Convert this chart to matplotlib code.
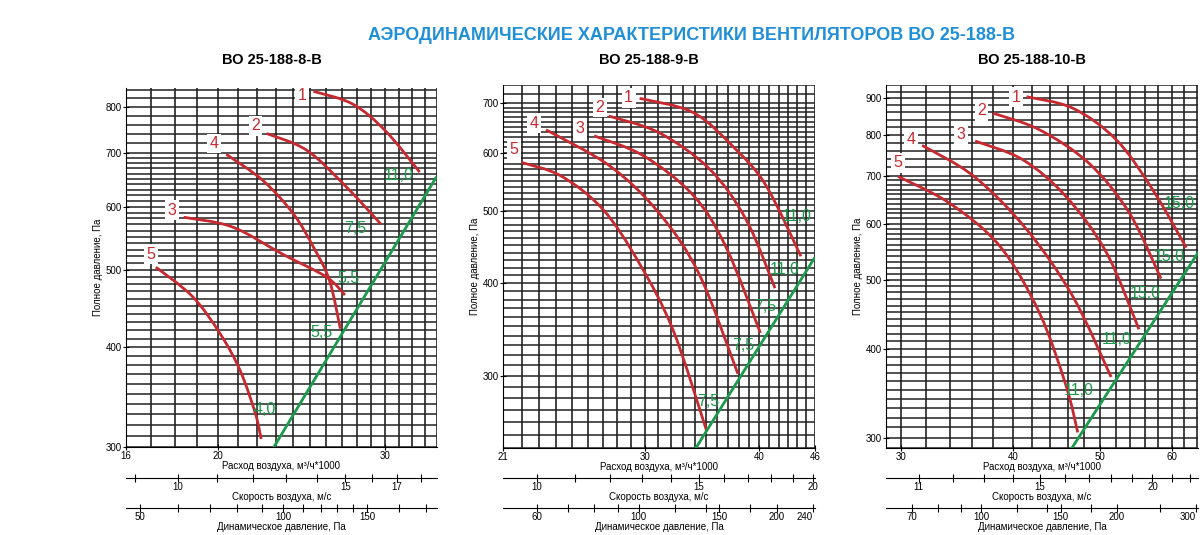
import numpy as np
import matplotlib
matplotlib.use("Agg")
import matplotlib.pyplot as plt
from matplotlib.ticker import FixedLocator, NullLocator
from matplotlib.path import Path
from matplotlib.patches import PathPatch

plt.rcParams['font.family'] = ['Liberation Sans', 'DejaVu Sans']

TITLE = "АЭРОДИНАМИЧЕСКИЕ ХАРАКТЕРИСТИКИ ВЕНТИЛЯТОРОВ ВО 25-188-В"
names = ["ВО 25-188-8-В", "ВО 25-188-9-В", "ВО 25-188-10-В"]

# ---- panel 1 data (Q in 1000 m3/h, P in Pa)
p1_curves = {
    "1": ([25.2, 27.7, 30.0, 32.6], [837, 807, 747, 663]),
    "2": ([22.5, 24.8, 27.3, 29.7], [741, 706, 635, 570]),
    "4": ([20.4, 22.3, 24.0, 25.2, 26.2, 26.9], [698, 647, 588, 534, 485, 422]),
    "3": ([18.4, 20.7, 23.4, 26.0, 27.2], [582, 566, 523, 490, 465]),
    "5": ([17.2, 18.8, 20.1, 21.1, 21.9, 22.2], [504, 463, 416, 374, 330, 307]),
}
p1_green = ([22.9, 33.9], [300, 652])
p1_power = [("11,0", 31.0, 657), ("7,5", 27.9, 563), ("5,5", 27.4, 488), ("5,5", 25.7, 418), ("4,0", 22.4, 334)]
p1_nums = [("1", 24.5, 826), ("2", 21.9, 758), ("4", 19.8, 720), ("3", 17.9, 594), ("5", 17.0, 523)]

# ---- panel 2
p2_curves = {
    "1": ([29.6, 33.9, 37.7, 40.7, 44.4], [710, 679, 606, 541, 435]),
    "2": ([27.4, 31.1, 35.3, 38.7, 41.6], [672, 638, 570, 487, 394]),
    "3": ([26.4, 29.9, 33.9, 36.8, 40.1], [632, 594, 525, 447, 343]),
    "4": ([23.4, 27.5, 31.1, 34.4, 37.9], [644, 575, 497, 411, 302]),
    "5": ([22.0, 24.3, 27.0, 29.6, 32.2, 35.0], [582, 558, 503, 425, 346, 254]),
}
p2_green = ([34.1, 45.9], [240, 432])
p2_power = [("11,0", 43.9, 492), ("11,0", 42.6, 417), ("7,5", 40.6, 372), ("7,5", 38.4, 330), ("7,5", 35.2, 277)]
p2_nums = [("1", 28.8, 711), ("2", 26.8, 690), ("3", 25.5, 647), ("4", 22.7, 657), ("5", 21.6, 606)]

# ---- panel 3
p3_curves = {
    "1": ([41.4, 46.6, 52.1, 57.2, 62.3], [905, 872, 787, 669, 555]),
    "2": ([38.0, 42.8, 48.6, 53.9, 58.4], [858, 813, 729, 620, 502]),
    "3": ([36.3, 41.0, 45.8, 50.8, 55.2], [784, 738, 655, 546, 426]),
    "4": ([31.7, 36.2, 41.4, 46.6, 51.4], [773, 699, 589, 474, 365]),
    "5": ([29.8, 34.0, 38.7, 42.8, 45.8, 47.2], [699, 641, 557, 449, 355, 305]),
}
p3_green = ([46.5, 64.2], [290, 546])
p3_power = [("15,0", 61.2, 641), ("15,0", 59.7, 540), ("15,0", 56.1, 479), ("11,0", 52.2, 412), ("11,0", 47.3, 349)]
p3_nums = [("1", 40.3, 903), ("2", 36.9, 865), ("3", 35.0, 800), ("4", 30.8, 789), ("5", 29.8, 731)]

xlims = [(16, 34), (21, 46), (28.9, 64.2)]
ylims = [(300, 845), (240, 740), (290, 940)]
xticks = [[16, 20, 30], [21, 30, 40, 46], [30, 40, 50, 60]]
yticks = [[300, 400, 500, 600, 700, 800], [300, 400, 500, 600, 700], [300, 400, 500, 600, 700, 800, 900]]
vgrid_step = [1, 1, 2]
vel_ratio = [0.551, 0.437, 0.350]
vel_ticks = [[9, 10, 11, 12, 13, 14, 15, 16, 17, 18], list(range(10, 21)), list(range(11, 23))]
vel_labels = [[10, 15, 17], [10, 15, 20], [11, 15, 20]]
dyn_ticks = [[50, 60, 70, 80, 90, 100, 110, 120, 130, 140, 150, 175, 200],
             [60, 70, 80, 90, 100, 120, 140, 150, 175, 200, 240],
             [70, 80, 90, 100, 120, 140, 150, 175, 200, 250, 300]]
dyn_labels = [[50, 100, 150], [60, 100, 150, 200, 240], [70, 100, 150, 200, 300]]

curves = [p1_curves, p2_curves, p3_curves]
greens = [p1_green, p2_green, p3_green]
powers = [p1_power, p2_power, p3_power]
nums = [p1_nums, p2_nums, p3_nums]

W, H = 1200, 535
fig = plt.figure(figsize=(W / 100, H / 100), dpi=100)
RED = "#c62a30"
GREEN = "#1a9a4a"
BLUE = "#1f8fd8"


def smooth_curve(ax, xs, ys, **kw):
    """Draw a smooth curve through the points using cubic Bezier segments (in display space)."""
    pts = ax.transData.transform(np.column_stack([xs, ys]))
    n = len(pts)
    verts = [pts[0]]
    codes = [Path.MOVETO]
    for k in range(n - 1):
        p0 = pts[k - 1] if k > 0 else pts[k]
        p1, p2 = pts[k], pts[k + 1]
        p3 = pts[k + 2] if k + 2 < n else pts[k + 1]
        c1 = p1 + (p2 - p0) / 6.0
        c2 = p2 - (p3 - p1) / 6.0
        verts += [c1, c2, p2]
        codes += [Path.CURVE4] * 3
    patch = PathPatch(Path(verts, codes), transform=None, fill=False, **kw)
    ax.add_artist(patch)


fig.text(692 / W, 1 - 35 / H, TITLE, color=BLUE, fontsize=13, fontweight="bold", ha="center", va="center")

boxes = [(126, 437, 88, 447), (503, 815, 85, 448), (886, 1198, 85, 448)]
for i in range(3):
    l, r, t, b = boxes[i]
    ax = fig.add_axes([l / W, 1 - b / H, (r - l) / W, (b - t) / H])
    ax.set_xscale("log"); ax.set_yscale("log")
    x0, x1 = xlims[i]; y0, y1 = ylims[i]
    ax.set_xlim(x0, x1); ax.set_ylim(y0, y1)
    st = vgrid_step[i]
    for gx in np.arange(np.ceil(x0 / st) * st, x1 + 0.01, st):
        ax.axvline(gx, color="#222", lw=1.2, zorder=1)
    ys = list(range(int(np.ceil(y0 / 10) * 10), 700, 10)) + list(range(700, int(y1) + 1, 20))
    for gy in ys:
        ax.axhline(gy, color="#222", lw=1.1, zorder=1)
    for k, (xs, yv) in curves[i].items():
        smooth_curve(ax, xs, yv, edgecolor=RED, lw=2, zorder=3, capstyle="butt")
    gx_, gy_ = greens[i]
    ax.plot(gx_, gy_, color=GREEN, lw=2, zorder=3)
    for s, x, y in powers[i]:
        ax.text(x, y, s, color=GREEN, fontsize=11.5, ha="center", va="center", zorder=4)
    for s, x, y in nums[i]:
        ax.text(x, y, s, color=RED, fontsize=11.5, ha="center", va="center", zorder=4,
                bbox=dict(boxstyle="square,pad=0.15", fc="white", ec="none"))
    for sp in ax.spines.values():
        sp.set_visible(False)
    ax.spines["left"].set_visible(True)
    ax.spines["bottom"].set_visible(True)
    ax.xaxis.set_major_locator(FixedLocator(xticks[i]))
    ax.xaxis.set_minor_locator(NullLocator())
    ax.yaxis.set_major_locator(FixedLocator(yticks[i]))
    ax.yaxis.set_minor_locator(NullLocator())
    ax.set_xticklabels([str(v) for v in xticks[i]])
    ax.set_yticklabels([str(v) for v in yticks[i]])
    ax.tick_params(labelsize=7, length=4, direction="inout", pad=1)
    ax.set_xlabel("Расход воздуха, м³/ч*1000", fontsize=7, labelpad=0)
    ax.set_ylabel("Полное давление, Па", fontsize=7, labelpad=2)
    fig.text(((l + r) / 2 - 10) / W, 1 - 60 / H, names[i], fontsize=10.5, fontweight="bold", ha="center", va="center")

    axv = fig.add_axes([l / W, 1 - 478 / H, (r - l) / W, 0.001])
    axv.set_xscale("log")
    axv.set_xlim(x0 * vel_ratio[i], x1 * vel_ratio[i])
    axv.set_yticks([])
    for sp in ["top", "left", "right"]:
        axv.spines[sp].set_visible(False)
    axv.xaxis.set_major_locator(FixedLocator(vel_ticks[i]))
    axv.xaxis.set_minor_locator(NullLocator())
    axv.set_xticklabels([str(v) if v in vel_labels[i] else "" for v in vel_ticks[i]])
    axv.tick_params(labelsize=7, length=6, direction="inout", pad=0)
    axv.set_xlabel("Скорость воздуха, м/с", fontsize=7, labelpad=0)

    axd = fig.add_axes([l / W, 1 - 508 / H, (r - l) / W, 0.001])
    axd.set_xscale("log")
    axd.set_xlim(0.6 * (x0 * vel_ratio[i]) ** 2, 0.6 * (x1 * vel_ratio[i]) ** 2)
    axd.set_yticks([])
    for sp in ["top", "left", "right"]:
        axd.spines[sp].set_visible(False)
    axd.xaxis.set_major_locator(FixedLocator(dyn_ticks[i]))
    axd.xaxis.set_minor_locator(NullLocator())
    axd.set_xticklabels([str(v) if v in dyn_labels[i] else "" for v in dyn_ticks[i]])
    axd.tick_params(labelsize=7, length=6, direction="inout", pad=0)
    axd.get_xticklabels()[-1].set_horizontalalignment("right")
    axd.set_xlabel("Динамическое давление, Па", fontsize=7, labelpad=0)

fig.savefig("out.png", dpi=100)
